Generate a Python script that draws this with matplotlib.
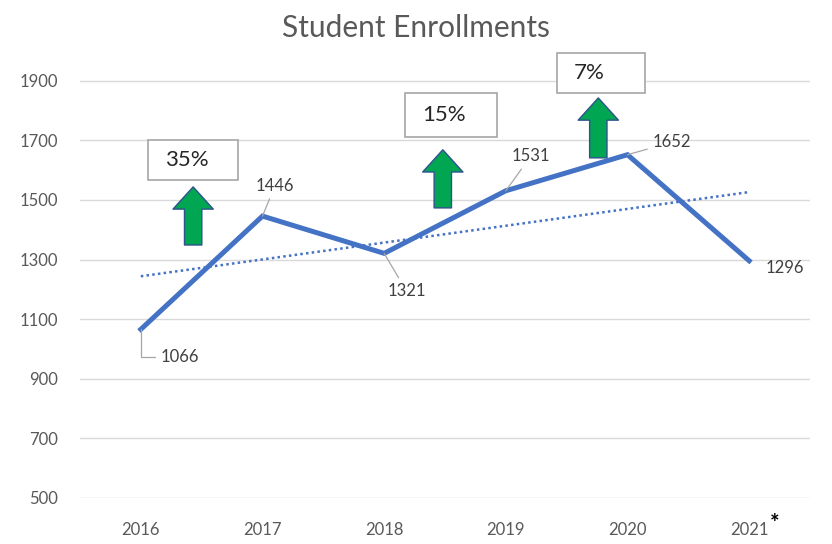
import numpy as np
import matplotlib.pyplot as plt
from matplotlib.patches import Rectangle

years = ['2016', '2017', '2018', '2019', '2020', '2021']
enrollments = [1066, 1446, 1321, 1531, 1652, 1296]
growth_labels = ['35%', '15%', '7%']
y_ticks = [500, 700, 900, 1100, 1300, 1500, 1700, 1900]

# label offsets in points (dx, dy) and whether a leader line is drawn
label_offsets = [(28, -20), (9, 22), (16, -27), (18, 25), (32, 9), (26, -5)]
label_leaders = [True, True, True, True, True, False]

plt.rcParams['font.family'] = ['Lato', 'DejaVu Sans']
grey = '#595959'
line_blue = '#4472C4'

fig = plt.figure(figsize=(8.32, 5.44), dpi=100)
ax = fig.add_axes([80 / 832, 1 - 498 / 544, 730 / 832, 447 / 544])

x = np.arange(len(years))
ax.plot(x, enrollments, color=line_blue, lw=3.6, solid_joinstyle='miter', zorder=3)

# linear trendline
coef = np.polyfit(x, enrollments, 1)
ax.plot(x, np.polyval(coef, x), color=line_blue, lw=1.8, ls=(0, (1, 1.3)), zorder=2)

for xi, val, (dx, dy), lead in zip(x, enrollments, label_offsets, label_leaders):
    props = None
    if lead:
        props = dict(arrowstyle='-', color='#A6A6A6', lw=0.9, shrinkA=2, shrinkB=0,
                     connectionstyle='angle,angleA=0,angleB=90,rad=0' if dy < -15 and dx > 25 else 'arc3')
    ax.annotate(str(val), xy=(xi, val), xytext=(dx, dy), textcoords='offset points',
                ha='center', va='center', fontsize=12, color='#404040', arrowprops=props, zorder=4)

# growth boxes and arrows (axes fraction)
boxes = [(0.093, 0.711, 0.123, 0.090), (0.445, 0.808, 0.126, 0.098), (0.653, 0.906, 0.121, 0.090)]
arrows = [(0.155, 0.566, 0.696), (0.497, 0.649, 0.779), (0.710, 0.761, 0.895)]
for label, (bx, by, bw, bh), (axx, y0, y1) in zip(growth_labels, boxes, arrows):
    ax.add_patch(Rectangle((bx, by), bw, bh, transform=ax.transAxes, facecolor='white',
                           edgecolor='#A6A6A6', lw=1.2, clip_on=False, zorder=5))
    ax.text(bx + 0.024, by + bh / 2, label, transform=ax.transAxes, ha='left', va='center',
            fontsize=16, color='#262626', zorder=6)
    ax.annotate('', xy=(axx, y1), xytext=(axx, y0), xycoords='axes fraction',
                arrowprops=dict(arrowstyle='simple,head_length=16,head_width=29,tail_width=12.5',
                                mutation_scale=1, facecolor='#00A651', edgecolor='#2F528F',
                                lw=1, shrinkA=0, shrinkB=0), zorder=5)

ax.set_xlim(-0.5, len(years) - 0.5)
ax.set_ylim(500, 2000)
ax.set_yticks(y_ticks)
ax.set_xticks(x)
ax.set_xticklabels(years)
ax.grid(axis='y', color='#D9D9D9', lw=1)
ax.set_axisbelow(True)
for s in ax.spines.values():
    s.set_visible(False)
ax.tick_params(length=0, labelsize=12, colors=grey)
ax.tick_params(axis='x', pad=17)
ax.tick_params(axis='y', pad=16)
ax.text(0.951, -0.058, '*', transform=ax.transAxes, fontsize=16, fontweight='bold',
        color='black', ha='center', va='center')

fig.text(0.5, 1 - 28 / 544, 'Student Enrollments', ha='center', va='center', fontsize=21.5, color=grey)

fig.savefig('out.png', dpi=100)
